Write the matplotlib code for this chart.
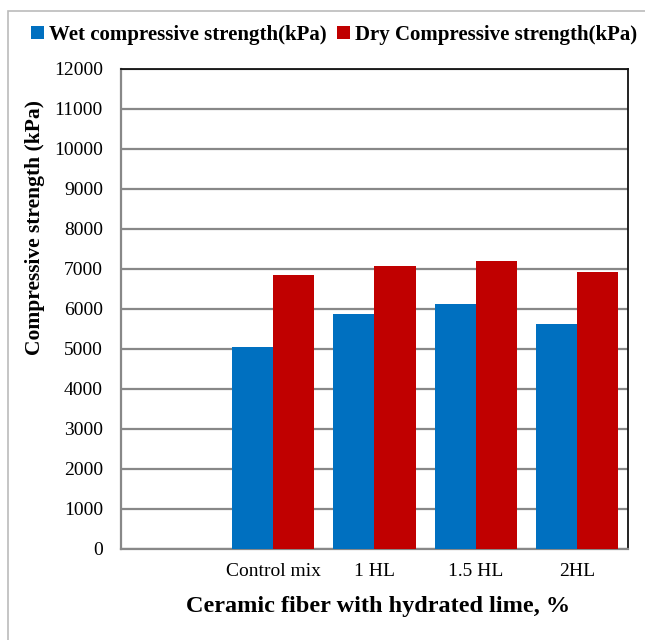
import numpy as np
import matplotlib
matplotlib.use('Agg')
import matplotlib.pyplot as plt
from matplotlib.patches import Rectangle

plt.rcParams['font.family'] = ['Liberation Serif', 'DejaVu Serif']

categories = ['', 'Control mix', '1 HL', '1.5 HL', '2HL']
wet = [np.nan, 5040, 5870, 6110, 5630]
dry = [np.nan, 6850, 7060, 7195, 6910]
yticks = list(range(0, 12001, 1000))

fig = plt.figure(figsize=(6.45, 6.40), dpi=100)
ax = fig.add_axes([0.1876, 0.1422, 0.7860, 0.7505])

x = np.arange(len(categories))
w = 0.405
ax.bar(x - w / 2, wet, w, color='#0070C0', label='Wet compressive strength(kPa)', zorder=3)
ax.bar(x + w / 2, dry, w, color='#C00000', label='Dry Compressive strength(kPa)', zorder=3)

ax.set_xlim(-0.5, len(categories) - 0.5)
ax.set_ylim(0, 12000)
ax.set_yticks(yticks)
ax.set_xticks(x)
ax.set_xticklabels(categories)
ax.tick_params(axis='both', length=0, labelsize=14)
ax.tick_params(axis='y', pad=13)
ax.tick_params(axis='x', pad=10)
ax.yaxis.grid(True, color='#888888', linewidth=1.6, zorder=0)
ax.set_axisbelow(True)

for s in ['left', 'bottom']:
    ax.spines[s].set_color('#888888')
    ax.spines[s].set_linewidth(1.6)
for s in ['top', 'right']:
    ax.spines[s].set_color('#111111')
    ax.spines[s].set_linewidth(1.3)

ax.set_ylabel('Compressive strength (kPa)', fontsize=15.5, fontweight='bold')
ax.yaxis.set_label_coords(-0.150, 0.670)
ax.set_xlabel('Ceramic fiber with hydrated lime, %', fontsize=17.5, fontweight='bold')
ax.xaxis.set_label_coords(0.507, -0.097)

leg = fig.legend(loc='center', bbox_to_anchor=(0.518, 0.945), ncol=2, frameon=False,
                 prop={'size': 15, 'weight': 'bold'}, handlelength=0.6, handleheight=0.6,
                 handletextpad=0.25, columnspacing=0.5)

fig.patches.append(Rectangle((8 / 645, -0.1), 1.2, 1.1 - 11 / 640, transform=fig.transFigure,
                             fill=False, edgecolor='#bbbbbb', linewidth=1.2))

fig.savefig('out.png', dpi=100)
